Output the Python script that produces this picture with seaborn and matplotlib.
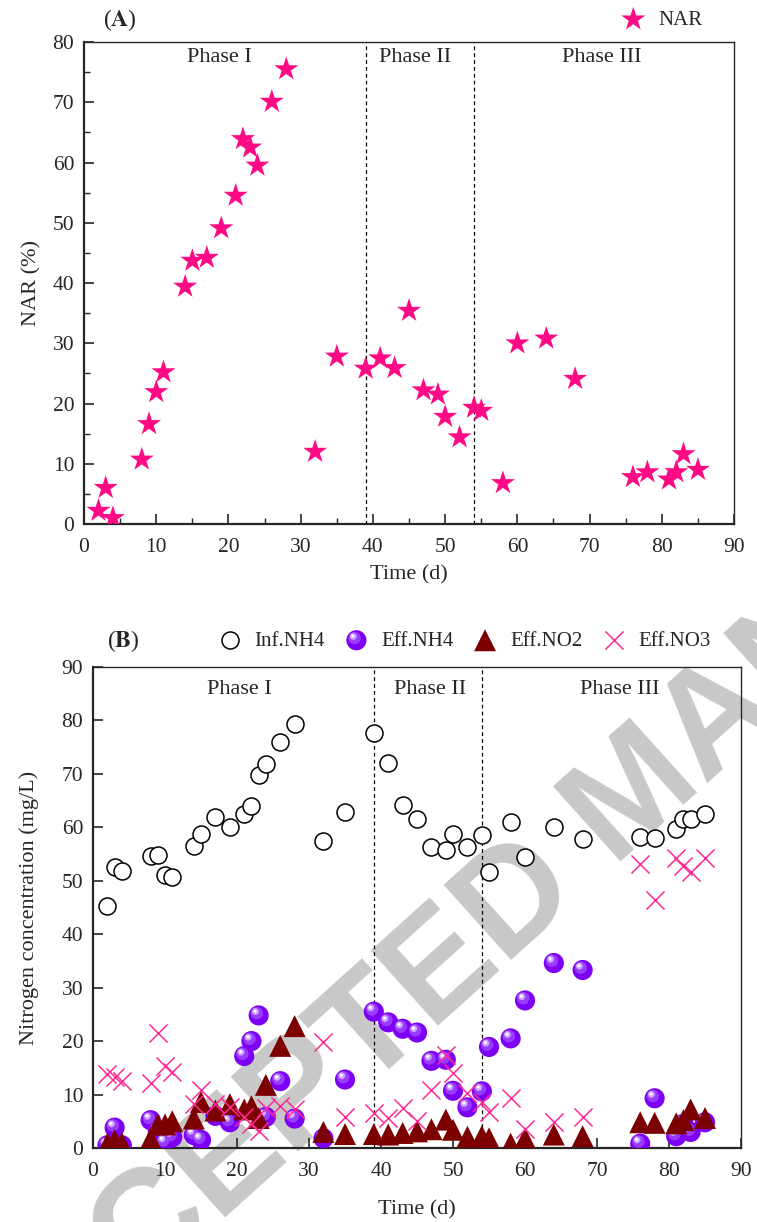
import numpy as np
import pandas as pd
import seaborn as sns
import matplotlib
matplotlib.use("Agg")
from matplotlib import pyplot as plt
from matplotlib.path import Path
from matplotlib.legend_handler import HandlerTuple

# ---- data ----
days = [2, 3, 4, 8, 9, 10, 11, 14, 15, 17, 19, 21, 22, 23, 24, 26, 28, 32, 35,
        39, 41, 43, 45, 47, 49, 50, 52, 54, 55, 58, 60, 64, 68, 76, 78, 81, 82, 83, 85]

nar = [2.2, 6.0, 1.0, 10.7, 16.6, 21.9, 25.2, 39.4, 43.7, 44.2, 49.1, 54.5, 63.9, 62.5,
       59.5, 70.1, 75.5, 12.0, 27.8, 25.8, 27.5, 25.9, 35.4, 22.2, 21.5, 17.8, 14.4, 19.3,
       18.8, 6.8, 30.0, 30.8, 24.1, 7.8, 8.6, 7.4, 8.6, 11.6, 9.0]

inf_nh4 = [45.2, 52.5, 51.8, 54.6, 54.8, 51.0, 50.7, 56.5, 58.7, 62.0, 60.0, 62.5, 64.0,
           69.8, 71.8, 76.0, 79.4, 57.4, 62.8, 77.7, 72.0, 64.2, 61.5, 56.3, 55.8, 58.8,
           56.4, 58.6, 51.6, 60.9, 54.4, 60.0, 57.8, 58.2, 58.0, 59.7, 61.5, 61.5, 62.5]

eff_nh4 = [0.5, 3.8, 0.5, 5.2, 3.2, 1.0, 2.0, 2.4, 1.5, 6.0, 4.8, 17.2, 20.0, 24.8, 5.8,
           12.5, 5.5, 1.8, 12.8, 25.5, 23.5, 22.3, 21.6, 16.3, 16.5, 10.7, 7.6, 10.6, 18.9,
           20.5, 27.6, 34.6, 33.3, 0.8, 9.3, 2.2, 4.5, 3.0, 4.8]

eff_no2 = [0.8, 1.5, 0.9, 1.7, 4.4, 4.4, 5.0, 5.5, 8.6, 7.0, 8.2, 7.2, 7.8, 5.6, 11.8,
           19.1, 22.8, 3.0, 2.6, 2.6, 2.5, 2.8, 3.1, 3.5, 5.3, 3.4, 2.1, 2.2, 1.8, 0.8,
           1.8, 2.5, 2.2, 4.8, 4.7, 4.6, 5.2, 7.2, 5.6]

eff_no3 = [13.8, 13.2, 12.5, 12.2, 21.6, 15.3, 14.2, 8.3, 10.8, 8.2, 7.7, 5.8, 4.4, 3.2,
           7.5, 7.9, 7.3, 19.9, 5.7, 6.6, 5.6, 7.5, 5.0, 10.9, 17.4, 14.1, 10.3, 8.6, 6.7,
           9.3, 3.6, 4.8, 5.8, 53.2, 46.4, 54.3, 52.7, 51.6, 54.3]

phase_breaks = [39, 54]
phase_names = ["Phase I", "Phase II", "Phase III"]
phase_x_a = [18.7, 45.8, 71.7]
phase_x_b = [20.3, 46.8, 73.2]

df = pd.DataFrame({"day": days, "nar": nar, "inf_nh4": inf_nh4, "eff_nh4": eff_nh4,
                   "eff_no2": eff_no2, "eff_no3": eff_no3})

STAR = "#ff0a84"
PURPLE = "#7d00f5"
MAROON = "#7c0000"
PINK = "#ff2a95"


def dot(cx, cy, r):
    # small offset disc, padded so the marker box stays the same as 'o'
    c = Path.circle((cx, cy), r)
    verts = np.vstack([[[-1, -1]], [[1, 1]], c.vertices])
    codes = np.concatenate([[Path.MOVETO, Path.MOVETO], c.codes])
    return Path(verts, codes)


def style_axis(ax, ymax, ystep, minor_x, minor_y):
    ax.set_xlim(0, 90)
    ax.set_ylim(0, ymax)
    ax.set_xticks(np.arange(0, 91, 10))
    ax.set_yticks(np.arange(0, ymax + 1, ystep))
    if minor_x:
        ax.set_xticks(np.arange(5, 90, 10), minor=True)
    if minor_y:
        ax.set_yticks(np.arange(5, ymax, 10), minor=True)
    ax.tick_params(which="both", direction="in", top=False, right=False,
                   labelsize=15.5, pad=7)
    ax.tick_params(axis="x", pad=10)
    ax.tick_params(which="major", length=7, width=1.2)
    ax.tick_params(which="minor", length=4, width=1.0)
    for s in ["left", "bottom"]:
        ax.spines[s].set_linewidth(1.6)
    for s in ["top", "right"]:
        ax.spines[s].set_linewidth(1.0)
    for x in phase_breaks:
        ax.axvline(x, color="black", lw=0.9, ls=(0, (3, 2.5)), zorder=1)
    ax.set_facecolor("none")


sns.set_style("ticks")
plt.rcParams["font.family"] = ["Liberation Serif", "DejaVu Serif"]
plt.rcParams["mathtext.fontset"] = "stix"

fig = plt.figure(figsize=(7.57, 12.22), dpi=100)

# watermark behind everything
fig.text(0.841, 0.349, "ACCEPTED MANUSCRIPT", rotation=42, fontsize=106,
         color="#c8c8c8", fontweight="bold", family="Liberation Sans",
         ha="center", va="center", rotation_mode="anchor", zorder=-5)

# ---------- panel A ----------
ax1 = fig.add_axes([0.111, 0.5712, 0.8587, 0.3944])
sns.scatterplot(data=df, x="day", y="nar", ax=ax1, marker="*", s=330, color=STAR,
                edgecolor="none", label="NAR", zorder=3, legend=False)
style_axis(ax1, 80, 10, True, True)
ax1.set_xlabel("Time (d)", fontsize=16, labelpad=6)
ax1.set_ylabel("NAR (%)", fontsize=16, labelpad=8)
for name, x in zip(phase_names, phase_x_a):
    ax1.text(x, 77.5, name, ha="center", va="center", fontsize=16)
ax1.legend(handles=[ax1.collections[0]], labels=["NAR"], loc="center",
           bbox_to_anchor=(0.874, 0.9836), bbox_transform=fig.transFigure,
           frameon=False, fontsize=15, handlelength=1.2, handletextpad=0.6,
           borderaxespad=0)
fig.text(0.159, 0.9836, r"($\mathbf{A}$)", ha="center", va="center", fontsize=17)

# ---------- panel B ----------
ax2 = fig.add_axes([0.1229, 0.0606, 0.856, 0.3936])
sns.scatterplot(data=df, x="day", y="inf_nh4", ax=ax2, marker="o", s=150,
                facecolor="white", edgecolor="black", linewidth=1.1, zorder=3)
sph = [sns.scatterplot(data=df, x="day", y="eff_nh4", ax=ax2, marker="o", s=210,
                       color=PURPLE, edgecolor="none", zorder=3).collections[-1]]
for (cx, cy, r, c) in [(-0.18, 0.22, 0.62, "#9a3cff"), (-0.32, 0.38, 0.34, "#cfa6ff"),
                       (-0.36, 0.42, 0.15, "#ffffff")]:
    sph.append(sns.scatterplot(data=df, x="day", y="eff_nh4", ax=ax2,
                               marker=dot(cx, cy, r), s=210, color=c,
                               edgecolor="none", zorder=3).collections[-1])
sns.scatterplot(data=df, x="day", y="eff_no2", ax=ax2, marker="^", s=250,
                color=MAROON, edgecolor="none", zorder=4)
sns.scatterplot(data=df, x="day", y="eff_no3", ax=ax2, marker="x", s=170,
                color=PINK, linewidth=1.1, zorder=5)
style_axis(ax2, 90, 10, False, False)
ax2.set_xlabel("Time (d)", fontsize=16, labelpad=14)
ax2.set_ylabel("Nitrogen concentration (mg/L)", fontsize=16, labelpad=16)
for name, x in zip(phase_names, phase_x_b):
    ax2.text(x, 85.7, name, ha="center", va="center", fontsize=16)

cols = ax2.collections
handles = [cols[0], tuple(sph), cols[5], cols[6]]
ax2.legend(handles=handles, labels=["Inf.NH4", "Eff.NH4", "Eff.NO2", "Eff.NO3"],
           handler_map={tuple: HandlerTuple(ndivide=1, pad=0)},
           loc="center", ncol=4, bbox_to_anchor=(0.613, 0.4755),
           bbox_transform=fig.transFigure, frameon=False, fontsize=15,
           handlelength=1.2, handletextpad=0.6, columnspacing=0.9,
           borderaxespad=0)
fig.text(0.1625, 0.4755, r"($\mathbf{B}$)", ha="center", va="center", fontsize=17)

fig.savefig("out.png", dpi=100)
